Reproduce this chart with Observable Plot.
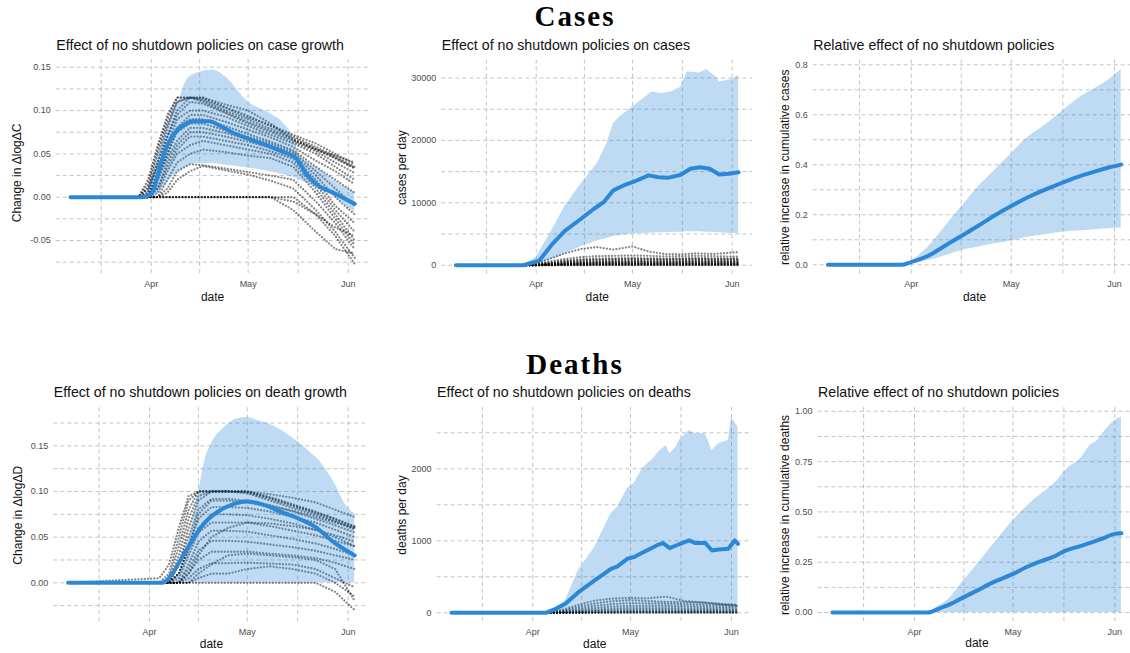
<!DOCTYPE html>
<html>
<head>
<meta charset="utf-8">
<script src="https://cdn.jsdelivr.net/npm/d3@7"></script>
<script src="https://cdn.jsdelivr.net/npm/@observablehq/plot@0.6"></script>
<style>
  html, body { margin: 0; padding: 0; background: #fff; }
  body { position: relative; width: 1130px; height: 653px; overflow: hidden; }
  .sec { position: absolute; left: 0; width: 1150px; text-align: center; font-family: "Liberation Serif", "Times New Roman", serif; font-weight: bold; font-size: 29px; line-height: 29px; letter-spacing: 2px; color: #000; }
  svg.panel { position: absolute; }
</style>
</head>
<body>
<script>
// ---------- data ----------
const sectionTitles = ["Cases", "Deaths"];
const panelTitles = [
  "Effect of no shutdown policies on case growth",
  "Effect of no shutdown policies on cases",
  "Relative effect of no shutdown policies",
  "Effect of no shutdown policies on death growth",
  "Effect of no shutdown policies on deaths",
  "Relative effect of no shutdown policies"
];
const yLabels = [
  "Change in ΔlogΔC", "cases per day", "relative increase in cumulative cases",
  "Change in ΔlogΔD", "deaths per day", "relative increase in cumulative deaths"
];
const xLabel = "date";
const xTickDates = ["04-01", "05-01", "06-01"];
const xTickLabels = ["Apr", "May", "Jun"];
const xGridDates = ["03-16.5", "04-01", "04-16", "05-01", "05-16.5", "06-01"];
const xDomainDates = ["03-07", "06-03"];

// y ticks (major) and minor gridlines
const cgYMajor = [-0.05, 0, 0.05, 0.10, 0.15];
const cgYMinor = [-0.075, -0.025, 0.025, 0.075, 0.125];
const cYMajor = [0, 10000, 20000, 30000];
const cYMinor = [5000, 15000, 25000];
const rcYMajor = [0, 0.2, 0.4, 0.6, 0.8];
const rcYMinor = [0.1, 0.3, 0.5, 0.7];
const dgYMajor = [0, 0.05, 0.10, 0.15];
const dgYMinor = [-0.025, 0.025, 0.075, 0.125, 0.175];
const dYMajor = [0, 1000, 2000];
const dYMinor = [500, 1500, 2500];
const rdYMajor = [0, 0.25, 0.50, 0.75, 1.00];
const rdYMinor = [0.125, 0.375, 0.625, 0.875];

// Panel 1: case growth  [date, value] and [date, low, high]
const cgLine = [["03-07",0],["03-29",0],["03-30",0.0005],["04-01",0.004],["04-02",0.0116],["04-04",0.0385],["04-06",0.0597],["04-08",0.073],["04-11",0.083],["04-14",0.0878],["04-19",0.0878],["04-22",0.083],["04-26",0.075],["05-01",0.0674],["05-07",0.0597],["05-12",0.052],["05-16",0.0443],["05-19",0.027],["05-22",0.0154],["05-28",0.004],["06-03",-0.0077]];
const cgBand = [["03-07",0,0],["03-29",0,0],["04-01",0,0.02],["04-03",0.003,0.045],["04-05",0.012,0.07],["04-08",0.025,0.1],["04-10",0.031,0.117],["04-12",0.035,0.135],["04-15",0.039,0.143],["04-20",0.039,0.147],["04-24",0.037,0.139],["05-01",0.034,0.11],["05-07",0.03,0.098],["05-12",0.026,0.085],["05-15",0.023,0.069],["05-17",0.02,0.048],["05-23",0.01,0.033],["05-28",0.0,0.018],["06-03",-0.018,0.006]];
const cgKnots = ["03-07","03-28","03-31","04-03","04-06","04-09","04-13","04-17","04-24","05-01","05-08","05-15","05-22","05-28","06-03"];
const cgStates = [
  [0,0,0.015,0.055,0.09,0.115,0.115,0.115,0.104,0.094,0.082,0.07,0.058,0.047,0.035],
  [0,0,0.005,0.04,0.08,0.11,0.115,0.112,0.100,0.090,0.079,0.068,0.056,0.045,0.034],
  [0,0,0.02,0.06,0.095,0.115,0.115,0.115,0.107,0.1,0.085,0.066,0.055,0.048,0.04],
  [0,0,0,0.03,0.07,0.1,0.115,0.11,0.098,0.087,0.077,0.066,0.055,0.045,0.033],
  [0,0,0.005,0.04,0.07,0.095,0.11,0.108,0.097,0.085,0.075,0.064,0.053,0.04,0.028],
  [0,0,0,0.025,0.06,0.09,0.1,0.1,0.093,0.082,0.072,0.062,0.05,0.035,0.02],
  [0,0,0,0.02,0.05,0.08,0.095,0.095,0.087,0.078,0.069,0.058,0.042,0.03,0.015],
  [0,0,0.01,0.035,0.06,0.08,0.09,0.09,0.082,0.073,0.064,0.054,0.035,0.02,0.005],
  [0,0,0,0.025,0.05,0.075,0.085,0.085,0.077,0.07,0.062,0.052,0.03,0.01,-0.01],
  [0,0,0,0.02,0.045,0.065,0.08,0.08,0.074,0.067,0.06,0.05,0.025,0.0,-0.02],
  [0,0,0,0.01,0.04,0.06,0.075,0.075,0.07,0.064,0.057,0.047,0.02,-0.01,-0.03],
  [0,0,0,0.01,0.035,0.055,0.07,0.07,0.065,0.06,0.053,0.044,0.015,-0.015,-0.04],
  [0,0,0,0.005,0.03,0.05,0.06,0.065,0.06,0.055,0.05,0.04,0.01,-0.02,-0.05],
  [0,0,0,0,0.02,0.04,0.05,0.055,0.052,0.048,0.045,0.035,0.005,-0.025,-0.055],
  [0,0,0,0,0.01,0.03,0.038,0.037,0.033,0.029,0.025,0.02,-0.005,-0.03,-0.06],
  [0,0,0,0,0.005,0.02,0.03,0.036,0.031,0.026,0.019,0.01,-0.015,-0.04,-0.07],
  [0,0,0,0,0,0,0,0,0,0,0,0,-0.02,-0.045,-0.077],
  [0,0,0,0,0,0,0,0,0,0,0,-0.015,-0.04,-0.06,-0.065],
  [0,0,0,0,0,0,0,0,0,0,0,-0.005,-0.02,-0.035,-0.045],
  [0,0,0.01,0.05,0.085,0.11,0.115,0.113,0.103,0.092,0.083,0.072,0.062,0.05,0.038]
];

// Panel 2: cases per day
const cLine = [["03-07",0],["03-28",0],["04-02",750],["04-06",3400],["04-10",5550],["04-15",7450],["04-19",9050],["04-22",10100],["04-25",12000],["04-27",12500],["04-29",12950],["05-01",13300],["05-06",14400],["05-09",14100],["05-12",14000],["05-16",14500],["05-19",15450],["05-22",15700],["05-25",15450],["05-28",14550],["05-31",14650],["06-03",14900]];
const cBand = [["03-07",0,0],["03-28",0,0],["04-01",100,1280],["04-06",1000,5700],["04-10",1800,9500],["04-15",3000,13050],["04-20",3900,16260],["04-23",4300,19470],["04-25",4600,22680],["04-27",4750,23750],["05-01",5000,25360],["05-05",5100,26960],["05-07",5150,27770],["05-10",5200,27500],["05-13",5250,27770],["05-16",5300,28570],["05-18",5350,30980],["05-22",5350,30820],["05-24",5300,31350],["05-27",5250,30170],["05-28",5200,29370],["06-01",5100,29750],["06-03",5100,30440]];
const cKnots = ["03-07","03-28","04-01","04-05","04-10","04-15","04-20","04-25","05-01","05-06","05-11","05-16","05-21","05-26","06-03"];
const cStates = [
  [0,0,300,1000,1900,2600,2900,2500,3000,2200,1800,1750,1900,1800,2100],
  [0,0,150,600,1000,1300,1450,1500,1550,1500,1400,1450,1500,1450,1350],
  [0,0,100,400,750,950,1050,1100,1150,1100,1050,1100,1150,1100,1050],
  [0,0,60,250,500,650,750,800,850,820,800,830,880,850,800],
  [0,0,40,180,380,480,560,600,640,630,610,640,680,650,620],
  [0,0,25,120,260,350,400,440,470,460,450,470,500,480,460],
  [0,0,15,80,170,240,280,300,330,320,310,330,340,330,310],
  [0,0,8,45,100,150,180,200,210,205,195,205,215,205,195],
  [0,0,4,25,55,80,100,110,120,115,110,115,120,115,110],
  [0,0,2,10,25,35,45,50,55,52,50,52,55,52,50],
  [0,0,1,5,10,15,20,22,25,24,22,23,25,24,22],
  [0,0,80,320,620,800,900,950,1000,980,950,980,1020,990,950],
  [0,0,30,140,300,400,480,520,560,550,530,560,590,570,540],
  [0,0,10,60,130,190,230,250,270,260,250,265,280,270,255]
];

// Panel 3: relative increase in cumulative cases
const rcLine = [["03-07",0],["03-29",0],["04-01",0.011],["04-06",0.035],["04-11",0.075],["04-16",0.115],["04-21",0.155],["04-26",0.197],["05-01",0.235],["05-06",0.27],["05-11",0.3],["05-16",0.327],["05-21",0.352],["05-26",0.373],["05-30",0.388],["06-03",0.401]];
const rcBand = [["03-07",0,0],["03-29",0,0],["04-01",0.004,0.015],["04-06",0.017,0.07],["04-11",0.035,0.15],["04-16",0.057,0.23],["04-21",0.07,0.31],["04-26",0.084,0.377],["05-01",0.095,0.444],["05-06",0.11,0.51],["05-11",0.12,0.557],["05-16",0.13,0.61],["05-21",0.135,0.664],["05-26",0.14,0.704],["05-30",0.144,0.737],["06-03",0.147,0.78]];

// Panel 4: death growth
const dgLine = [["03-07",0],["04-05",0],["04-08",0.0099],["04-11",0.028],["04-14",0.046],["04-18",0.066],["04-21",0.0755],["04-27",0.0865],["05-01",0.089],["05-05",0.0865],["05-12",0.077],["05-17",0.07],["05-22",0.061],["05-27",0.046],["06-03",0.03]];
const dgBand = [["03-07",0,0],["04-06",0,0],["04-08",0,0.002],["04-10",0,0.01],["04-12",0,0.025],["04-14",0,0.062],["04-16",0,0.098],["04-18",0,0.134],["04-20",0,0.152],["04-24",0,0.17],["04-28",0,0.1796],["05-01",0,0.181],["05-04",0,0.178],["05-09",0,0.172],["05-14",0,0.161],["05-19",0,0.147],["05-24",0,0.13],["05-28",0,0.108],["05-31",0,0.0865],["06-03",0,0.0755]];
const dgKnots = ["03-07","04-04","04-07","04-10","04-13","04-16","04-20","04-25","05-01","05-08","05-15","05-22","05-28","06-03"];
const dgStates = [
  [0,0,0.01,0.05,0.09,0.1,0.1,0.1,0.1,0.093,0.085,0.077,0.07,0.062],
  [0,0,0.005,0.04,0.08,0.1,0.1,0.1,0.1,0.094,0.086,0.078,0.07,0.061],
  [0,0,0,0.03,0.07,0.095,0.1,0.1,0.099,0.092,0.084,0.076,0.068,0.06],
  [0,0.005,0.02,0.06,0.095,0.1,0.1,0.1,0.1,0.097,0.093,0.088,0.08,0.072],
  [0,0,0,0.02,0.06,0.09,0.1,0.1,0.098,0.09,0.082,0.074,0.067,0.058],
  [0,0,0,0.02,0.05,0.08,0.092,0.092,0.09,0.085,0.079,0.072,0.066,0.06],
  [0,0,0,0.01,0.04,0.07,0.083,0.083,0.082,0.078,0.072,0.066,0.058,0.05],
  [0,0,0,0.01,0.035,0.06,0.075,0.075,0.074,0.07,0.065,0.058,0.05,0.04],
  [0,0,0,0.005,0.03,0.055,0.066,0.066,0.066,0.062,0.057,0.052,0.046,0.04],
  [0,0,0,0,0.02,0.045,0.057,0.057,0.056,0.052,0.048,0.043,0.037,0.03],
  [0,0,0,0,0.015,0.035,0.046,0.046,0.045,0.042,0.039,0.035,0.03,0.025],
  [0,0,0,0,0.01,0.025,0.034,0.034,0.034,0.032,0.03,0.027,0.022,0.015],
  [0,0,0,0,0.005,0.015,0.0215,0.0215,0.022,0.021,0.02,0.015,0.005,-0.005],
  [0,0,0,0,0,0.005,0.01,0.01,0.015,0.018,0.015,0.01,0,-0.015],
  [0,0,0,0,0,0,0,0,0,0,0,0,-0.01,-0.03],
  [0,0,0,0,0.01,0.03,0.05,0.06,0.066,0.065,0.062,0.058,0.052,0.045],
  [0,0,0,0,0,0.01,0.02,0.03,0.032,0.03,0.028,0.025,0.015,-0.02],
  [0,0,0,0.01,0.04,0.075,0.09,0.09,0.088,0.084,0.078,0.07,0.063,0.055]
];

// Panel 5: deaths per day
const dLine = [["03-07",0],["04-05",0],["04-08",55],["04-11",125],["04-15",287],["04-20",450],["04-25",611],["04-27",644],["04-30",750],["05-02",773],["05-04",820],["05-06",866],["05-09",935],["05-11",968],["05-13",898],["05-15",935],["05-19",1005],["05-21",968],["05-24",968],["05-26",866],["05-28",880],["05-31",889],["06-02",1005],["06-03",958]];
const dBand = [["03-07",0,0],["04-05",0,0],["04-08",0,60],["04-11",0,170],["04-15",0,590],["04-20",0,912],["04-25",0,1375],["04-27",0,1467],["04-30",0,1722],["05-02",0,1792],["05-05",0,2023],["05-08",0,2139],["05-10",0,2255],["05-12",0,2324],["05-13",0,2208],["05-15",0,2300],["05-16",0,2393],["05-19",0,2532],["05-21",0,2486],["05-24",0,2486],["05-26",0,2255],["05-28",0,2347],["05-31",0,2393],["06-01",0,2717],["06-03",0,2578]];
const dKnots = ["03-07","04-05","04-10","04-15","04-20","04-25","05-01","05-06","05-12","05-18","05-24","05-30","06-03"];
const dStates = [
  [0,0,40,110,170,195,208,200,225,160,140,110,100],
  [0,0,25,80,130,160,175,165,150,150,140,120,110],
  [0,0,15,55,95,120,135,130,125,120,110,105,100],
  [0,0,10,35,65,85,95,95,95,90,85,80,80],
  [0,0,5,20,40,55,65,65,65,62,60,58,55],
  [0,0,3,12,25,35,40,42,42,40,40,38,36],
  [0,0,2,6,12,18,22,24,24,23,22,21,20],
  [0,0,1,3,6,9,11,12,12,12,11,11,10],
  [0,0,1,2,3,4,5,6,6,6,5,5,5],
  [0,0,0,1,1,2,2,2,2,2,2,2,2]
];

// Panel 6: relative increase in cumulative deaths
const rdLine = [["03-07",0],["04-05",0],["04-09",0.023],["04-12",0.043],["04-15",0.068],["04-20",0.109],["04-25",0.151],["05-01",0.192],["05-05",0.225],["05-10",0.258],["05-13",0.275],["05-17",0.308],["05-21",0.328],["05-25",0.349],["05-28",0.366],["06-01",0.391],["06-03",0.394]];
const rdBand = [["03-07",0,0],["04-05",0,0],["04-08",0,0.03],["04-11",0,0.06],["04-16",0,0.159],["04-21",0,0.258],["04-26",0,0.358],["05-01",0,0.457],["05-06",0,0.54],["05-11",0,0.606],["05-13",0,0.631],["05-18",0,0.722],["05-21",0,0.755],["05-25",0,0.838],["05-26",0,0.846],["05-29",0,0.904],["06-01",0,0.954],["06-03",0,0.97]];

// ---------- helpers ----------
const d = s => { const [m, dd] = s.split("-").map(Number); return new Date(Date.UTC(2020, m - 1, 1) + (dd - 1) * 864e5); };
const blue = "#2c88d6";
const gridColor = "#b0b0b0";

function makePanel(c) {
  const tickDates = xTickDates.map(d);
  const marks = [
    Plot.ruleY([...c.yMajor, ...c.yMinor], {stroke: gridColor, strokeWidth: 0.75, strokeDasharray: "4,3"}),
    Plot.ruleX(xGridDates.map(d), {stroke: gridColor, strokeWidth: 0.75, strokeDasharray: "4,3"})
  ];
  if (c.states) {
    const rows = c.states.flatMap((vals, id) => vals.map((v, i) => ({date: d(c.knots[i]), v, id})));
    marks.push(Plot.line(rows, {x: "date", y: "v", z: "id", stroke: "black", strokeOpacity: 0.48, strokeWidth: 2.3, strokeDasharray: "0,3.2", strokeLinecap: "round"}));
  }
  marks.push(Plot.areaY(c.band, {x: r => d(r[0]), y1: r => r[1], y2: r => r[2], fill: blue, fillOpacity: 0.3, curve: c.curve}));
  marks.push(Plot.line(c.line, {x: r => d(r[0]), y: r => r[1], stroke: blue, strokeWidth: 4, curve: c.curve}));
  marks.push(Plot.text([c.title], {text: t => t, frameAnchor: "top-left", textAnchor: "start", lineAnchor: "bottom", dy: c.titleDy, fontSize: 14.2, fill: "#111"}));
  marks.push(Plot.text([xLabel], {text: t => t, frameAnchor: "bottom", textAnchor: "middle", lineAnchor: "middle", dy: c.dateDy, fontSize: 12, fill: "#111"}));
  marks.push(Plot.text([c.ylab], {text: t => t, frameAnchor: "left", textAnchor: "middle", lineAnchor: "middle", rotate: -90, dx: c.ylabDx, dy: c.ylabDy || 0, fontSize: 12, fill: "#111"}));
  const svg = Plot.plot({
    width: c.width, height: c.height,
    marginLeft: c.ml, marginRight: c.mr, marginTop: c.mt, marginBottom: c.mb,
    x: {type: "utc", domain: xDomainDates.map(d), inset: c.inset, ticks: tickDates,
        tickFormat: t => xTickLabels[tickDates.findIndex(v => +v === +t)], tickSize: 0, tickPadding: 6, label: null},
    y: {domain: c.yDomain, ticks: c.yMajor, tickFormat: c.fmt, tickSize: 0, tickPadding: 5.5, label: null},
    style: {fontFamily: "'Liberation Sans', Arial, sans-serif", fontSize: "9px", color: "#4d4d4d", background: "transparent", overflow: "visible"},
    marks
  });
  svg.classList.add("panel");
  svg.style.left = c.left + "px";
  svg.style.top = c.top + "px";
  document.body.appendChild(svg);
}

const f2 = v => v.toFixed(2), f1 = v => v.toFixed(1), f0 = v => String(v);

makePanel({left: 0, top: 28, width: 375, height: 282, ml: 55.8, mr: 6.6, mt: 31, mb: 36.2, inset: 14.2,
  yDomain: [-0.089, 0.159], yMajor: cgYMajor, yMinor: cgYMinor, fmt: f2, title: panelTitles[0], ylab: yLabels[0],
  line: cgLine, band: cgBand, states: cgStates, knots: cgKnots, curve: "monotone-x", titleDy: -10, dateDy: 22.9, ylabDx: -39.1, ylabDy: 6});
makePanel({left: 375, top: 28, width: 380, height: 282, ml: 66.3, mr: 2.8, mt: 31.6, mb: 35.5, inset: 14.1,
  yDomain: [-1565, 32870], yMajor: cYMajor, yMinor: cYMinor, fmt: f0, title: panelTitles[1], ylab: yLabels[1],
  line: cLine, band: cBand, states: cStates, knots: cKnots, curve: "linear", titleDy: -10.6, dateDy: 22.2, ylabDx: -39.6});
makePanel({left: 755, top: 28, width: 385, height: 282, ml: 57.7, mr: 4.6, mt: 31.55, mb: 35.95, inset: 14.7,
  yDomain: [-0.039, 0.819], yMajor: rcYMajor, yMinor: rcYMinor, fmt: f1, title: panelTitles[2], ylab: yLabels[2],
  line: rcLine, band: rcBand, curve: "monotone-x", titleDy: -10.55, dateDy: 22.65, ylabDx: -27.7});
makePanel({left: 0, top: 372, width: 375, height: 281, ml: 53.3, mr: 6.5, mt: 35.3, mb: 30.8, inset: 14.3,
  yDomain: [-0.0437, 0.1917], yMajor: dgYMajor, yMinor: dgYMinor, fmt: f2, title: panelTitles[3], ylab: yLabels[3],
  line: dgLine, band: dgBand, states: dgStates, knots: dgKnots, curve: "monotone-x", titleDy: -10.6, dateDy: 21.1, ylabDx: -36});
makePanel({left: 375, top: 372, width: 380, height: 281, ml: 61.6, mr: 3.2, mt: 34.9, mb: 30.9, inset: 14.3,
  yDomain: [-136, 2853], yMajor: dYMajor, yMinor: dYMinor, fmt: f0, title: panelTitles[4], ylab: yLabels[4],
  line: dLine, band: dBand, states: dStates, knots: dKnots, curve: "linear", titleDy: -10.2, dateDy: 21.1, ylabDx: -34.9});
makePanel({left: 755, top: 372, width: 385, height: 281, ml: 62.5, mr: 4.7, mt: 35.1, mb: 31.2, inset: 14.4,
  yDomain: [-0.0485, 1.0185], yMajor: rdYMajor, yMinor: rdYMinor, fmt: f2, title: panelTitles[5], ylab: yLabels[5],
  line: rdLine, band: rdBand, curve: "monotone-x", titleDy: -10.4, dateDy: 21.1, ylabDx: -32.5});

// section titles
sectionTitles.forEach((t, i) => {
  const div = document.createElement("div");
  div.className = "sec";
  div.style.top = (i === 0 ? 2.4 : 350) + "px";
  div.textContent = t;
  document.body.appendChild(div);
});
</script>
</body>
</html>
